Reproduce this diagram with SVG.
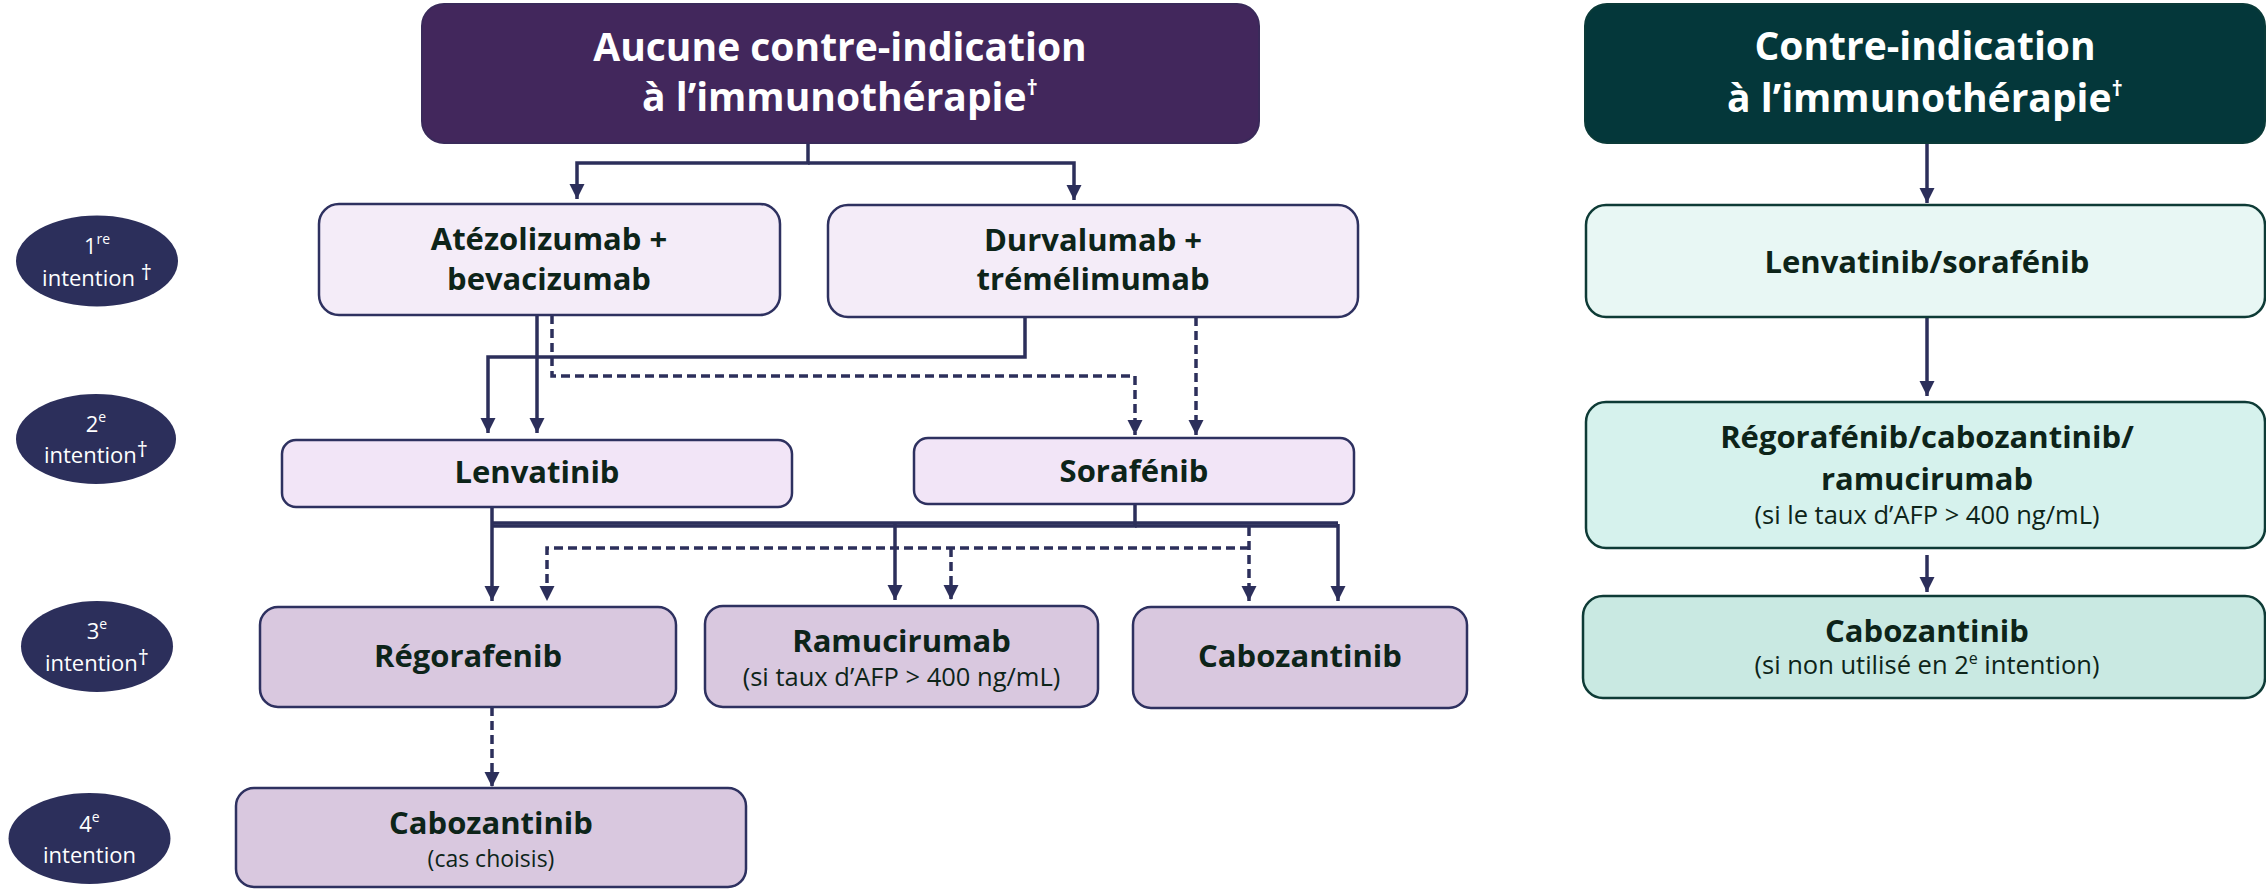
<svg xmlns="http://www.w3.org/2000/svg" width="2266" height="889" viewBox="0 0 2266 889">
  <style>
    .bg { fill: #ffffff; }
    .hdr-text { font-family: "Open Sans", "Liberation Sans", sans-serif; font-weight: 700; font-size: 39px; fill: #ffffff; text-anchor: middle; }
    .node-text { font-family: "Open Sans", "Liberation Sans", sans-serif; font-weight: 700; font-size: 31px; fill: #0d2419; text-anchor: middle; }
    .sub-text { font-family: "Open Sans", "Liberation Sans", sans-serif; font-weight: 400; font-size: 25.5px; fill: #0d2419; text-anchor: middle; }
    .sub-small { font-size: 23px; }
    .lvl-text { font-family: "Open Sans", "Liberation Sans", sans-serif; font-weight: 400; font-size: 22px; fill: #ffffff; text-anchor: middle; }
    .lvl { fill: #2c2f5b; }
    .box-p1 { fill: #f4ecf8; stroke: #2e3160; stroke-width: 2.5; }
    .box-p2 { fill: #f2e5f7; stroke: #2e3160; stroke-width: 2.5; }
    .box-p3 { fill: #d9c8df; stroke: #2e3160; stroke-width: 2.5; }
    .box-g1 { fill: #e8f7f4; stroke: #0e3b36; stroke-width: 2.5; }
    .box-g2 { fill: #d6f2ed; stroke: #0e3b36; stroke-width: 2.5; }
    .box-g3 { fill: #c9e9e2; stroke: #0e3b36; stroke-width: 2.5; }
    .solid { fill: none; stroke: #2c2f5b; stroke-width: 3.5; }
    .dash { fill: none; stroke: #2c2f5b; stroke-width: 3.5; stroke-dasharray: 9 5; }
    .arr { marker-end: url(#head); }
  </style>
  <defs>
    <marker id="head" viewBox="0 0 16 16" refX="16" refY="8" markerWidth="15" markerHeight="16" markerUnits="userSpaceOnUse" orient="auto">
      <path d="M0,0 L16,8 L0,16 z" fill="#2c2f5b"/>
    </marker>
  </defs>

  <rect class="bg" x="0" y="0" width="2266" height="889"/>

  <!-- line-of-therapy labels -->
  <g id="lvl1">
    <ellipse class="lvl" cx="97" cy="261" rx="81" ry="45.5"/>
    <text class="lvl-text" x="97" y="254">1<tspan font-size="14" dy="-10">re</tspan></text>
    <text class="lvl-text" x="97" y="286">intention <tspan font-size="22" dy="-6">†</tspan></text>
  </g>
  <g id="lvl2">
    <ellipse class="lvl" cx="96" cy="439" rx="80" ry="45"/>
    <text class="lvl-text" x="96" y="432">2<tspan font-size="14" dy="-10">e</tspan></text>
    <text class="lvl-text" x="96" y="463">intention<tspan font-size="22" dy="-6">†</tspan></text>
  </g>
  <g id="lvl3">
    <ellipse class="lvl" cx="97" cy="646.5" rx="76" ry="45.5"/>
    <text class="lvl-text" x="97" y="639">3<tspan font-size="14" dy="-10">e</tspan></text>
    <text class="lvl-text" x="97" y="671">intention<tspan font-size="22" dy="-6">†</tspan></text>
  </g>
  <g id="lvl4">
    <ellipse class="lvl" cx="89.5" cy="838.5" rx="81" ry="45.5"/>
    <text class="lvl-text" x="89.5" y="832">4<tspan font-size="14" dy="-10">e</tspan></text>
    <text class="lvl-text" x="89.5" y="863">intention</text>
  </g>

  <!-- connectors -->
  <g id="connectors">
    <!-- header to first line -->
    <path class="solid arr" d="M808,143 V163 H577 V199"/>
    <path class="solid arr" d="M808,163 H1074 V200"/>
    <!-- first line to second line -->
    <path class="solid arr" d="M537,315 V433"/>
    <path class="solid arr" d="M1025,317 V357 H488 V433"/>
    <path class="dash arr" d="M552,315 V376 H1135 V435"/>
    <path class="dash arr" d="M1196,317 V435"/>
    <!-- second line to third line -->
    <path class="solid arr" d="M492,507 V601"/>
    <path class="solid" d="M492,523 H1338"/>
    <path class="solid" d="M1135,504 V526 H492"/>
    <path class="solid" d="M1135,526 H1338"/>
    <path class="solid arr" d="M895,524 V600"/>
    <path class="solid arr" d="M1338,524 V601"/>
    <path class="dash arr" d="M1249,527 V601"/>
    <path class="dash arr" d="M1249,548 H547 V601"/>
    <path class="dash arr" d="M951,548 V600"/>
    <!-- third line to fourth line -->
    <path class="dash arr" d="M492,707 V787"/>
    <!-- contraindication branch -->
    <path class="solid arr" d="M1927,143 V203"/>
    <path class="solid arr" d="M1927,317 V396"/>
    <path class="solid arr" d="M1927,555 V592"/>
  </g>

  <!-- left branch -->
  <g id="hdr-no-ci">
    <rect x="422" y="4" width="837" height="139" rx="22" fill="#42275c" stroke="#3a2a5a" stroke-width="2"/>
    <text class="hdr-text" x="840" y="61">Aucune contre-indication</text>
    <text class="hdr-text" x="840" y="111">à l’immunothérapie<tspan font-size="22" dy="-16">†</tspan></text>
  </g>
  <g id="n-atezo">
    <rect class="box-p1" x="319" y="204" width="461" height="111" rx="20"/>
    <text class="node-text" x="549" y="250">Atézolizumab +</text>
    <text class="node-text" x="549" y="290">bevacizumab</text>
  </g>
  <g id="n-durva">
    <rect class="box-p1" x="828" y="205" width="530" height="112" rx="20"/>
    <text class="node-text" x="1093" y="251">Durvalumab +</text>
    <text class="node-text" x="1093" y="290">trémélimumab</text>
  </g>
  <g id="n-lenva">
    <rect class="box-p2" x="282" y="440" width="510" height="67" rx="14"/>
    <text class="node-text" x="537" y="483">Lenvatinib</text>
  </g>
  <g id="n-sora">
    <rect class="box-p2" x="914" y="438" width="440" height="66" rx="14"/>
    <text class="node-text" x="1134" y="482">Sorafénib</text>
  </g>
  <g id="n-rego">
    <rect class="box-p3" x="260" y="607" width="416" height="100" rx="18"/>
    <text class="node-text" x="468" y="667">Régorafenib</text>
  </g>
  <g id="n-ramu">
    <rect class="box-p3" x="705" y="606" width="393" height="101" rx="18"/>
    <text class="node-text" x="901.5" y="652">Ramucirumab</text>
    <text class="sub-text" x="901.5" y="686">(si taux d’AFP &gt; 400 ng/mL)</text>
  </g>
  <g id="n-cabo3">
    <rect class="box-p3" x="1133" y="607" width="334" height="101" rx="18"/>
    <text class="node-text" x="1300" y="667">Cabozantinib</text>
  </g>
  <g id="n-cabo4">
    <rect class="box-p3" x="236" y="788" width="510" height="99" rx="18"/>
    <text class="node-text" x="491" y="834">Cabozantinib</text>
    <text class="sub-text sub-small" x="491" y="867">(cas choisis)</text>
  </g>

  <!-- right branch -->
  <g id="hdr-ci">
    <rect x="1585" y="4" width="680" height="139" rx="22" fill="#04373a" stroke="#0a3a38" stroke-width="2"/>
    <text class="hdr-text" x="1925" y="60">Contre-indication</text>
    <text class="hdr-text" x="1925" y="112">à l’immunothérapie<tspan font-size="22" dy="-16">†</tspan></text>
  </g>
  <g id="g-lenvasora">
    <rect class="box-g1" x="1586" y="205" width="679" height="112" rx="20"/>
    <text class="node-text" x="1927" y="273">Lenvatinib/sorafénib</text>
  </g>
  <g id="g-rego">
    <rect class="box-g2" x="1586" y="402" width="679" height="146" rx="20"/>
    <text class="node-text" x="1927" y="448">Régorafénib/cabozantinib/</text>
    <text class="node-text" x="1927" y="490">ramucirumab</text>
    <text class="sub-text" x="1927" y="524">(si le taux d’AFP &gt; 400 ng/mL)</text>
  </g>
  <g id="g-cabo">
    <rect class="box-g3" x="1583" y="596" width="682" height="102" rx="20"/>
    <text class="node-text" x="1927" y="642">Cabozantinib</text>
    <text class="sub-text" x="1927" y="674">(si non utilisé en 2<tspan font-size="16" dy="-10">e</tspan><tspan dy="10"> intention)</tspan></text>
  </g>
</svg>
